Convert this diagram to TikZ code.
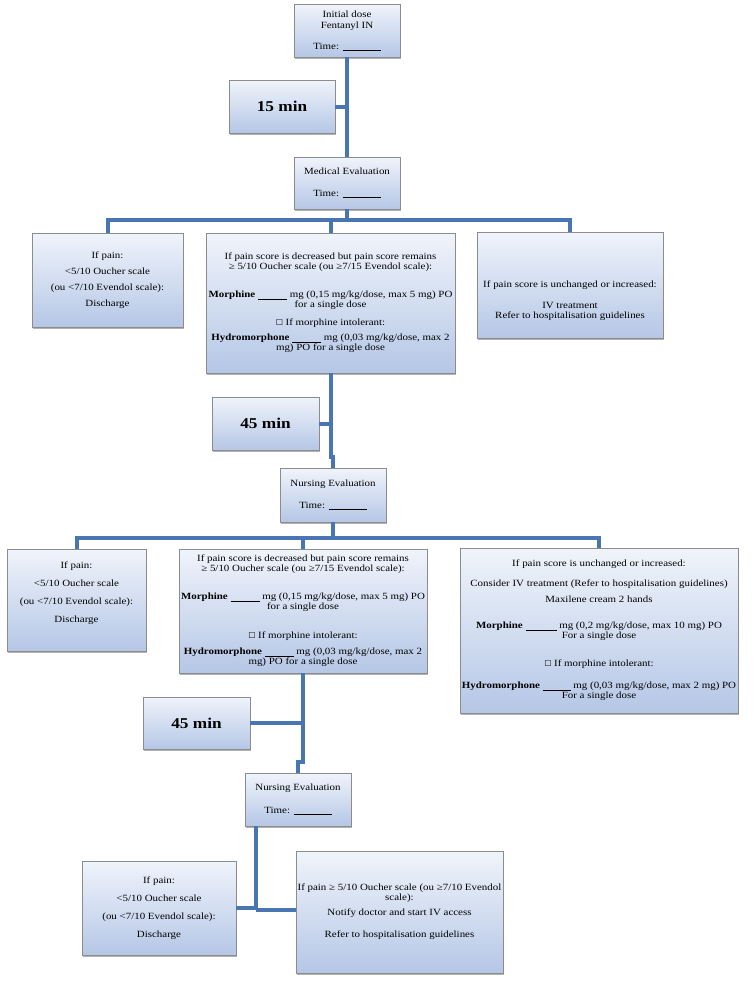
\documentclass[tikz,border=0pt]{standalone}
\usepackage{fontspec}
\setmainfont{Liberation Serif}[FakeStretch=1.15]
\newfontfamily\dejavu{DejaVu Sans}[Scale=0.85]
\usetikzlibrary{shadows}
\definecolor{linkblue}{HTML}{4A75B3}
\definecolor{boxtop}{HTML}{F0F4FB}
\definecolor{boxbottom}{HTML}{B5C7E6}
\definecolor{boxline}{HTML}{8C8C8C}
\newcommand{\blankto}[1]{\rule[-1.2pt]{#1}{0.5pt}}
\newcommand{\tickbox}{{\dejavu ☐}}
\tikzstyle{box}=[draw=boxline, line width=0.7pt, top color=boxtop, bottom color=boxbottom, align=center, inner sep=0pt, font=\fontsize{9.5}{10}\selectfont, drop shadow={shadow xshift=1.2pt, shadow yshift=-1.5pt, opacity=0.3, fill=black}]
\tikzstyle{timebox}=[box, font=\fontsize{15}{18}\selectfont\bfseries]
\tikzstyle{link}=[linkblue, line width=4pt]

\begin{document}
\begin{tikzpicture}[x=1pt, y=-1pt]
	\useasboundingbox (0,0) rectangle (755,983);
	\node[box, minimum width=106pt, minimum height=53pt] (init) at (347,30.5) {Initial dose\\[1pt]Fentanyl IN\\[11pt]Time: \blankto{38pt}};
	\node[timebox, minimum width=106pt, minimum height=53pt] (wait15) at (282,106.5) {15 min};
	\node[box, minimum width=106pt, minimum height=52pt] (medeval) at (347,183) {Medical Evaluation\\[12pt]Time: \blankto{38pt}};
	\node[box, minimum width=151pt, minimum height=94pt] (dischA) at (107.5,280) {If pain:\\[6pt]<5/10 Oucher scale\\[6pt](ou <7/10 Evendol scale):\\[6pt]Discharge};
	\node[box, minimum width=249pt, minimum height=140pt] (oralA) at (330.5,303) {If pain score is decreased but pain score remains\\≥ 5/10 Oucher scale (ou ≥7/15 Evendol scale):\\[18pt]\textbf{Morphine} \blankto{29pt} mg (0,15 mg/kg/dose, max 5 mg) PO\\for a single dose\\[8pt]\tickbox\ If morphine intolerant:\\[5pt]\textbf{Hydromorphone} \blankto{29pt} mg (0,03 mg/kg/dose, max 2\\mg) PO for a single dose};
	\node[box, minimum width=186pt, minimum height=106pt] (ivA) at (570,285) {\mbox{}\\[28pt]If pain score is unchanged or increased:\\[11pt]IV treatment\\Refer to hospitalisation guidelines};
	\node[timebox, minimum width=107pt, minimum height=53pt] (wait45a) at (265.5,423.5) {45 min};
	\node[box, minimum width=106pt, minimum height=54pt] (nurseA) at (333,495) {Nursing Evaluation\\[12pt]Time: \blankto{38pt}};
	\node[box, minimum width=139pt, minimum height=102pt] (dischB) at (76.5,600) {If pain:\\[8pt]<5/10 Oucher scale\\[8pt](ou <7/10 Evendol scale):\\[8pt]Discharge\\[5pt]\mbox{}};
	\node[box, minimum width=248pt, minimum height=124pt] (oralB) at (303,611) {If pain score is decreased but pain score remains\\≥ 5/10 Oucher scale (ou ≥7/15 Evendol scale):\\[18pt]\textbf{Morphine} \blankto{29pt} mg (0,15 mg/kg/dose, max 5 mg) PO\\for a single dose\\[19pt]\tickbox\ If morphine intolerant:\\[6pt]\textbf{Hydromorphone} \blankto{29pt} mg (0,03 mg/kg/dose, max 2\\mg) PO for a single dose};
	\node[box, minimum width=278pt, minimum height=165pt] (ivB) at (599,630.5) {If pain score is unchanged or increased:\\[10pt]Consider IV treatment (Refer to hospitalisation guidelines)\\[6pt]Maxilene cream 2 hands\\[16pt]\textbf{Morphine} \blankto{31pt} mg (0,2 mg/kg/dose, max 10 mg) PO\\For a single dose\\[18pt]\tickbox\ If morphine intolerant:\\[12pt]\textbf{Hydromorphone} \blankto{28pt} mg (0,03 mg/kg/dose, max 2 mg) PO\\For a single dose};
	\node[timebox, minimum width=107pt, minimum height=52pt] (wait45b) at (196.5,723) {45 min};
	\node[box, minimum width=106pt, minimum height=53pt] (nurseB) at (298,799.5) {Nursing Evaluation\\[13pt]Time: \blankto{38pt}};
	\node[box, minimum width=154pt, minimum height=94pt] (dischC) at (159,908) {If pain:\\[8pt]<5/10 Oucher scale\\[8pt](ou <7/10 Evendol scale):\\[8pt]Discharge};
	\node[box, minimum width=207pt, minimum height=122pt] (notify) at (399.5,912) {If pain ≥ 5/10 Oucher scale (ou ≥7/10 Evendol\\scale):\\[5pt]Notify doctor and start IV access\\[12pt]Refer to hospitalisation guidelines};
	\coordinate (barA) at (347,220);
	\coordinate (jogA) at (331,457);
	\coordinate (barB) at (333,538);
	\coordinate (jogB) at (303,762);
	\coordinate (forkC) at (256,910);
	\draw[link] (init) -- (medeval);
	\draw[link] (wait15.east) -- (wait15.east -| init.south);
	\draw[link] (medeval.south) -- (barA);
	\draw[link] (dischA.north) |- (barA) -| (ivA.north);
	\draw[link] (oralA.north) -- (oralA.north |- barA);
	\draw[link] (oralA.south) -- (oralA.south |- jogA) -| (nurseA.north);
	\draw[link] (wait45a.east) -- (wait45a.east -| oralA.south);
	\draw[link] (nurseA.south) -- (barB);
	\draw[link] (dischB.north) |- (barB) -| (ivB.north);
	\draw[link] (oralB.north) -- (oralB.north |- barB);
	\draw[link] (oralB.south) -- (jogB) -| (nurseB.north);
	\draw[link] (wait45b.east) -- (wait45b.east -| oralB.south);
	\draw[link] (forkC |- nurseB.south) -- (forkC);
	\draw[link] (dischC.east) -- (dischC.east -| forkC);
	\draw[link] (forkC) -- (forkC -| notify.west);
\end{tikzpicture}
\end{document}
